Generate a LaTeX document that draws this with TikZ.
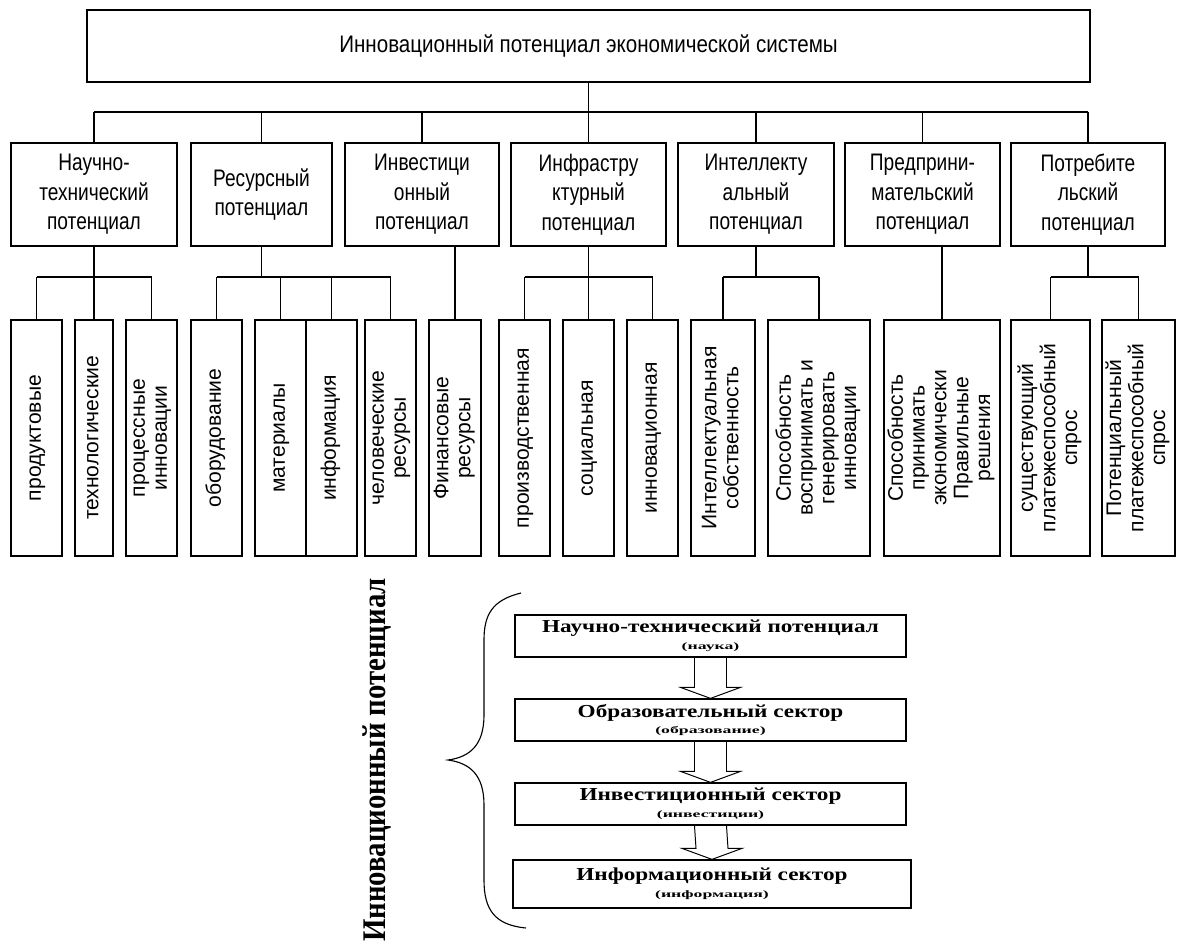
\documentclass[tikz,border=0pt]{standalone}
\usepackage{fontspec}
\usepackage{graphicx}
\setmainfont{Liberation Serif}
\newfontfamily\narrowsf[FakeStretch=0.8]{Liberation Sans}
\newfontfamily\headsf[FakeStretch=0.86]{Liberation Sans}
\newfontfamily\plainsf{Liberation Sans}
\usepackage{tikz}
\usetikzlibrary{calc}

\newcommand{\px}{0.025cm}
\tikzstyle{topbox}=[draw, line width=1pt, inner sep=0pt,% the head of the tree
minimum width=1003*\px, minimum height=72*\px, font=\headsf\fontsize{17}{20}\selectfont]
\tikzstyle{potbox}=[draw, line width=0.9pt, inner sep=0pt, align=center,
minimum height=103*\px, font=\narrowsf\fontsize{17}{21}\selectfont]
\tikzstyle{elbox}=[draw, line width=0.9pt, inner sep=0pt,
minimum height=236*\px, font=\plainsf\fontsize{15}{15.5}\selectfont]
\tikzstyle{secbox}=[draw, line width=0.9pt, inner sep=0pt, align=center, minimum width=391*\px, minimum height=42*\px]
\tikzstyle{conn}=[line width=0.8pt]
\tikzstyle{hollow}=[line width=0.7pt, line join=miter]

\newcommand{\vlines}[1]{\rotatebox{90}{\begin{tabular}{@{}c@{}}#1\end{tabular}}}
\newcommand{\secmain}[1]{{\fontsize{13}{14}\selectfont\bfseries\scalebox{1.27}[1]{#1}}}
\newcommand{\secsub}[1]{{\fontsize{7}{8}\selectfont\bfseries\scalebox{1.8}[1]{#1}}}
\newcommand{\hollowarr}[2]{\draw[hollow] ($(#1.south)+(-16,0)$) -- ($(#2.north)+(-16,-11)$) -- ($(#2.north)+(-30,-11)$) -- (#2.north) -- ($(#2.north)+(30,-11)$) -- ($(#2.north)+(16,-11)$) -- ($(#1.south)+(16,0)$);}

\begin{document}
\begin{tikzpicture}[x=\px, y=-\px]
\useasboundingbox (0,0) rectangle (1185,943);

\node[topbox] (sys) at (588.5,46) {Инновационный потенциал экономической системы};

\coordinate (bus) at (0,112);
\coordinate (sub) at (0,277);

% second level
\node[potbox, minimum width=166*\px] (nt) at (94,194.5) {Научно-\\технический\\потенциал};
\node[potbox, minimum width=141*\px] (res) at (261.5,194.5) {Ресурсный\\потенциал};
\node[potbox, minimum width=154*\px] (inv) at (422,194.5) {Инвестици\\онный\\потенциал};
\node[potbox, minimum width=155*\px] (infr) at (588.5,194.5) {Инфрастру\\ктурный\\потенциал};
\node[potbox, minimum width=156*\px] (intel) at (756,194.5) {Интеллекту\\альный\\потенциал};
\node[potbox, minimum width=155*\px] (pred) at (922.5,194.5) {Предприни-\\мательский\\потенциал};
\node[potbox, minimum width=154*\px] (potr) at (1088,194.5) {Потребите\\льский\\потенциал};

% third level
\node[elbox, minimum width=51*\px] (prod) at (36.5,438) {\vlines{продуктовые}};
\node[elbox, minimum width=38*\px] (tech) at (94,438) {\vlines{технологические}};
\node[elbox, minimum width=51*\px] (proc) at (151.5,438) {\vlines{процессные\\инновации}};
\node[elbox, minimum width=51*\px] (obor) at (216.5,438) {\vlines{оборудование}};
\node[elbox, minimum width=51*\px] (mat) at (280.5,438) {\vlines{материалы}};
\node[elbox, minimum width=51*\px] (inf) at (331.5,438) {\vlines{информация}};
\node[elbox, minimum width=51*\px] (chel) at (390.5,438) {\vlines{человеческие\\ресурсы}};
\node[elbox, minimum width=52*\px] (fin) at (455,438) {\vlines{Финансовые\\ресурсы}};
\node[elbox, minimum width=51*\px] (proiz) at (524.5,438) {\vlines{производственная}};
\node[elbox, minimum width=51*\px] (soc) at (588.5,438) {\vlines{социальная}};
\node[elbox, minimum width=51*\px] (innov) at (652.5,438) {\vlines{инновационная}};
\node[elbox, minimum width=64*\px] (sobst) at (723,438) {\vlines{Интеллектуальная\\собственность}};
\node[elbox, minimum width=102*\px] (gener) at (819,438) {\vlines{Способность\\воспринимать и\\генерировать\\инновации}};
\node[elbox, minimum width=116*\px] (resh) at (942,438) {\vlines{Способность\\принимать\\экономически\\Правильные\\решения}};
\node[elbox, minimum width=79*\px] (sush) at (1050.5,438) {\vlines{существующий\\платежеспособный\\спрос}};
\node[elbox, minimum width=73*\px] (ptsp) at (1138.5,438) {\vlines{Потенциальный\\платежеспособный\\спрос}};

\draw[conn] (sys.south) -- (sys.south |- bus);
\draw[conn] (nt.north |- bus) -- (potr.north |- bus);
\foreach \n in {nt,res,inv,infr,intel,pred,potr}
  \draw[conn] (\n.north) -- (\n.north |- bus);

\draw[conn] (nt.south) -- (nt.south |- sub);
\draw[conn] (prod.north |- sub) -- (proc.north |- sub);
\foreach \n in {prod,tech,proc}
  \draw[conn] (\n.north) -- (\n.north |- sub);

\draw[conn] (res.south) -- (res.south |- sub);
\draw[conn] (obor.north |- sub) -- (chel.north |- sub);
\foreach \n in {obor,mat,inf,chel}
  \draw[conn] (\n.north) -- (\n.north |- sub);

\draw[conn] (fin.north) -- (fin.north |- inv.south);

\draw[conn] (infr.south) -- (infr.south |- sub);
\draw[conn] (proiz.north |- sub) -- (innov.north |- sub);
\foreach \n in {proiz,soc,innov}
  \draw[conn] (\n.north) -- (\n.north |- sub);

\draw[conn] (intel.south) -- (intel.south |- sub);
\draw[conn] (sobst.north |- sub) -- (gener.north |- sub);
\foreach \n in {sobst,gener}
  \draw[conn] (\n.north) -- (\n.north |- sub);

\draw[conn] (resh.north) -- (resh.north |- pred.south);

\draw[conn] (potr.south) -- (potr.south |- sub);
\draw[conn] (sush.north |- sub) -- (ptsp.north |- sub);
\foreach \n in {sush,ptsp}
  \draw[conn] (\n.north) -- (\n.north |- sub);

% lower scheme
\node[rotate=90, font=\fontsize{23.5}{26}\selectfont\bfseries] (title) at (377,760) {\scalebox{0.87}[1]{Инновационный потенциал}};

\draw[line width=0.8pt] (521,593) .. controls (492,600) and (484,615) .. (484,640) -- (484,715)
  .. controls (484,745) and (470,757) .. (448,760) .. controls (470,763) and (484,775) .. (484,805)
  -- (484,880) .. controls (484,910) and (495,925) .. (526,928);

\node[secbox] (s1) at (710.5,636) {\secmain{Научно-технический потенциал}\\\secsub{(наука)}};
\node[secbox] (s2) at (710.5,720) {\secmain{Образовательный сектор}\\\secsub{(образование)}};
\node[secbox] (s3) at (710.5,804) {\secmain{Инвестиционный сектор}\\\secsub{(инвестиции)}};
\node[secbox, minimum width=398*\px, minimum height=48*\px] (s4) at (712,884) {\secmain{Информационный сектор}\\\secsub{(информация)}};

\hollowarr{s1}{s2}
\hollowarr{s2}{s3}
\hollowarr{s3}{s4}
\end{tikzpicture}
\end{document}
